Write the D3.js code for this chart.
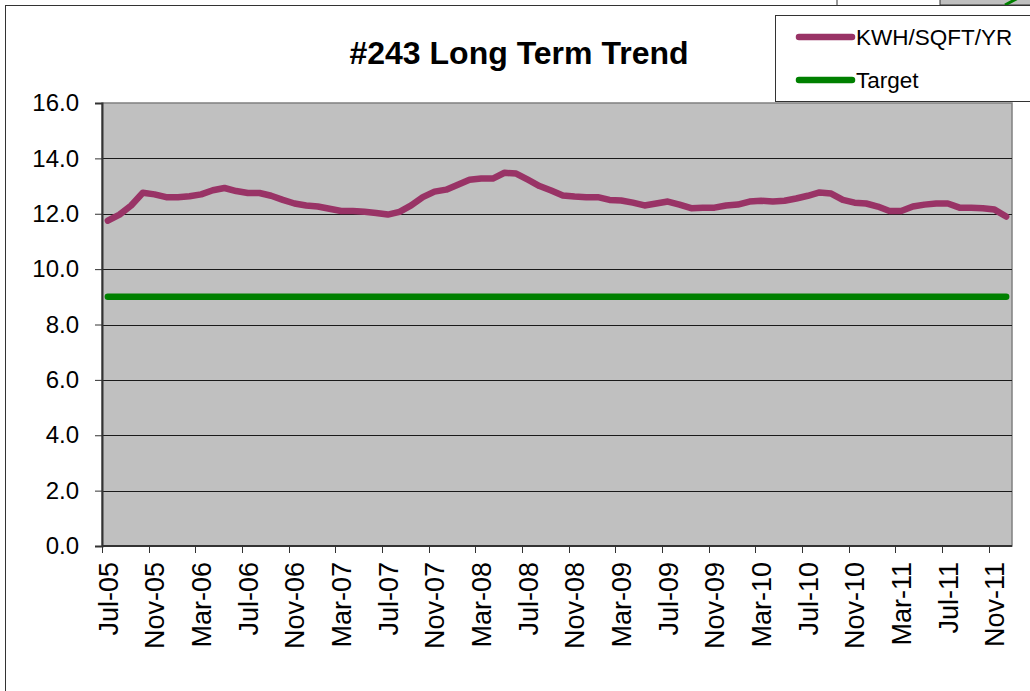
<!DOCTYPE html>
<html><head><meta charset="utf-8">
<script src="https://cdn.jsdelivr.net/npm/d3@7/dist/d3.min.js"></script>
<style>
html,body{margin:0;padding:0;background:#fff;overflow:hidden;}
text{font-family:"Liberation Sans",Arial,sans-serif;}
</style></head>
<body>
<svg id="c" width="1030" height="691"></svg>
<script>
const months = ["Jul-05","Aug-05","Sep-05","Oct-05","Nov-05","Dec-05","Jan-06","Feb-06","Mar-06","Apr-06","May-06","Jun-06",
"Jul-06","Aug-06","Sep-06","Oct-06","Nov-06","Dec-06","Jan-07","Feb-07","Mar-07","Apr-07","May-07","Jun-07",
"Jul-07","Aug-07","Sep-07","Oct-07","Nov-07","Dec-07","Jan-08","Feb-08","Mar-08","Apr-08","May-08","Jun-08",
"Jul-08","Aug-08","Sep-08","Oct-08","Nov-08","Dec-08","Jan-09","Feb-09","Mar-09","Apr-09","May-09","Jun-09",
"Jul-09","Aug-09","Sep-09","Oct-09","Nov-09","Dec-09","Jan-10","Feb-10","Mar-10","Apr-10","May-10","Jun-10",
"Jul-10","Aug-10","Sep-10","Oct-10","Nov-10","Dec-10","Jan-11","Feb-11","Mar-11","Apr-11","May-11","Jun-11",
"Jul-11","Aug-11","Sep-11","Oct-11","Nov-11","Dec-11"];
const kwh = [11.75,11.97,12.3,12.76,12.7,12.6,12.6,12.63,12.7,12.85,12.93,12.82,
12.75,12.75,12.65,12.5,12.37,12.3,12.26,12.18,12.1,12.1,12.07,12.03,
11.97,12.07,12.3,12.6,12.8,12.87,13.05,13.23,13.27,13.27,13.48,13.45,
13.23,13.0,12.84,12.66,12.62,12.6,12.6,12.5,12.48,12.4,12.3,12.37,
12.44,12.33,12.2,12.22,12.22,12.3,12.33,12.44,12.47,12.44,12.47,12.55,
12.65,12.77,12.73,12.5,12.4,12.37,12.26,12.1,12.1,12.26,12.33,12.37,
12.37,12.22,12.22,12.2,12.15,11.9];
const target = months.map(() => 9.0);
const yTicks = [0,2,4,6,8,10,12,14,16];
const title = "#243 Long Term Trend";
const seriesNames = ["KWH/SQFT/YR","Target"];
const seriesColors = ["#993366","#008000"];

const svg = d3.select("#c");
const L = 102, R = 1012, T = 103, B = 546;

// stray shapes at top right (neighbouring object)
svg.append("rect").attr("x",940).attr("y",-2).attr("width",100).attr("height",7).attr("fill","#c0c0c0").attr("stroke","#333");
svg.append("line").attr("x1",837).attr("x2",837).attr("y1",0).attr("y2",5).attr("stroke","#333");
svg.append("line").attr("x1",1005).attr("x2",1020).attr("y1",5).attr("y2",-3).attr("stroke","#008000").attr("stroke-width",3);

// chart border
svg.append("rect").attr("x",5.5).attr("y",5.5).attr("width",1040).attr("height",700)
  .attr("fill","#fff").attr("stroke","#333").attr("stroke-width",1);

const x = d3.scaleBand().domain(months).range([L,R]).paddingInner(0).paddingOuter(0);
const y = d3.scaleLinear().domain([0,16]).range([B,T]);
const cx = d => x(d) + x.bandwidth()/2;

// plot area
svg.append("rect").attr("x",L).attr("y",T).attr("width",R-L).attr("height",B-T)
  .attr("fill","#c0c0c0").attr("stroke","#808080").attr("stroke-width",1.5);

// gridlines
svg.append("g").selectAll("line").data(yTicks.filter(v=>v>0 && v<16)).join("line")
  .attr("x1",L).attr("x2",R).attr("y1",d=>Math.round(y(d))+0.5).attr("y2",d=>Math.round(y(d))+0.5)
  .attr("stroke","#1a1a1a").attr("stroke-width",1);

// y axis
const yAxis = d3.axisLeft(y).tickValues(yTicks).tickFormat(d3.format(".1f")).tickSize(7).tickPadding(16);
const gy = svg.append("g").attr("transform",`translate(${L},0)`).call(yAxis);
gy.select(".domain").attr("stroke","#333").attr("stroke-width",2);
gy.selectAll(".tick line").attr("stroke","#333");
gy.selectAll("text").attr("font-size",24).attr("fill","#000").attr("font-family","'Liberation Sans',Arial,sans-serif");

// x axis
const xAxisG = svg.append("g").attr("transform",`translate(0,${B})`);
xAxisG.append("line").attr("x1",L).attr("x2",R).attr("y1",0).attr("y2",0).attr("stroke","#333").attr("stroke-width",2);
const tickIdx = d3.range(0, months.length, 4);
xAxisG.selectAll("line.tk").data(tickIdx).join("line").attr("class","tk")
  .attr("x1",i=>Math.round(x(months[i]))+0.5).attr("x2",i=>Math.round(x(months[i]))+0.5)
  .attr("y1",0).attr("y2",7).attr("stroke","#333");
xAxisG.selectAll("text").data(tickIdx).join("text")
  .attr("transform",i=>`translate(${cx(months[i])},16) rotate(-90)`)
  .attr("text-anchor","end").attr("dy","0.36em").attr("font-size",27).attr("fill","#000")
  .text(i=>months[i]);

// lines
const line = d3.line().x((d,i)=>cx(months[i])).y(d=>y(d));
svg.append("path").datum(target).attr("d",line).attr("fill","none")
  .attr("stroke",seriesColors[1]).attr("stroke-width",6.5).attr("stroke-linecap","round");
svg.append("path").datum(kwh).attr("d",line).attr("fill","none")
  .attr("stroke",seriesColors[0]).attr("stroke-width",6.5).attr("stroke-linecap","round").attr("stroke-linejoin","round");

// title
svg.append("text").attr("x",519).attr("y",64).attr("text-anchor","middle")
  .attr("font-size",32).attr("font-weight","bold").attr("fill","#000").text(title);

// legend
const lg = svg.append("g");
lg.append("rect").attr("x",775.5).attr("y",15.5).attr("width",300).attr("height",86)
  .attr("fill","#fff").attr("stroke","#333");
seriesNames.forEach((n,k)=>{
  const yy = [37,80][k];
  lg.append("line").attr("x1",799).attr("x2",852).attr("y1",yy).attr("y2",yy)
    .attr("stroke",seriesColors[k]).attr("stroke-width",6.5).attr("stroke-linecap","round");
  lg.append("text").attr("x",856).attr("y",yy+8).attr("font-size",22.5).attr("fill","#000").text(n);
});
</script>
</body></html>
